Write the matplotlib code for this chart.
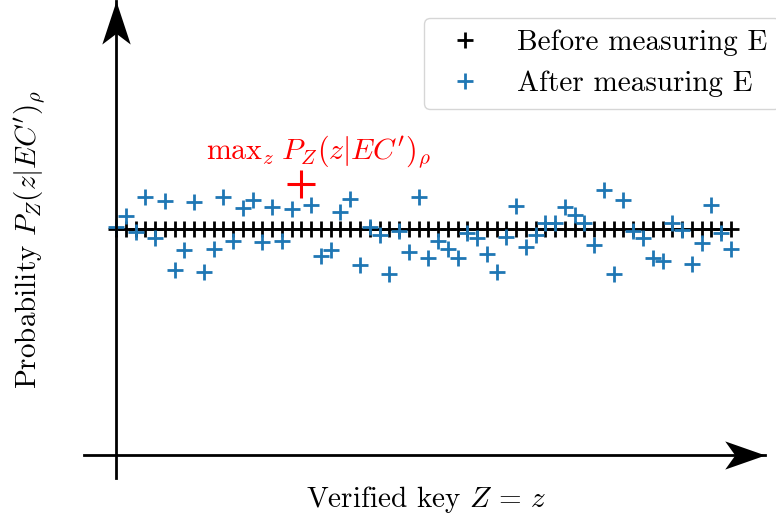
import numpy as np
import matplotlib.pyplot as plt
from matplotlib.path import Path

plt.rcParams["font.family"] = "serif"
plt.rcParams["font.serif"] = ["cmr10"]
plt.rcParams["mathtext.fontset"] = "cm"
plt.rcParams["axes.formatter.use_mathtext"] = True

# 6-bit key -> 64 possible values z
keys = np.arange(64)
p_before = np.full(64, 1 / 64)
p_after = np.array([
    0.015743, 0.016544, 0.015438, 0.017817, 0.014982, 0.017582, 0.012790, 0.014173,
    0.017512, 0.012673, 0.014242, 0.017817, 0.014816, 0.017098, 0.017630, 0.014747,
    0.017167, 0.014816, 0.017008, 0.018716, 0.017305, 0.013758, 0.014173, 0.016821,
    0.017678, 0.013136, 0.015784, 0.015210, 0.012514, 0.015487, 0.014056, 0.017858,
    0.013599, 0.014795, 0.014222, 0.013599, 0.015328, 0.015024, 0.013876, 0.012673,
    0.015093, 0.017215, 0.014401, 0.015210, 0.016019, 0.016061, 0.017167, 0.016593,
    0.016019, 0.014519, 0.018321, 0.012514, 0.017630, 0.015487, 0.014982, 0.013641,
    0.013433, 0.016019, 0.015556, 0.013184, 0.014678, 0.017284, 0.015369, 0.014242,
])
z_max = int(np.argmax(p_after))

fig = plt.figure(figsize=(7.76, 5.17), dpi=100)
ax = fig.add_axes([84 / 776, 39 / 517, (765 - 84) / 776, 477 / 517])

ax.plot(keys, p_before, "+", color="black", ms=11, mew=2, ls="none",
        label="Before measuring E")
ax.plot(keys, p_after, "+", color="#1f77b4", ms=11, mew=2, ls="none",
        label="After measuring E")
ax.plot(z_max, p_after[z_max], "+", color="red", ms=20, mew=2.2, zorder=5)
ax.annotate(r"$\mathrm{max}_z\; P_Z(z|EC')_\rho$", (z_max, p_after[z_max]),
            xytext=(12, 10), textcoords="offset points", ha="center", va="bottom",
            color="red", fontsize=21.5)

ax.set_xlim(-3.28, 66.5)
ax.set_ylim(-0.00159, 0.03139)

# spines through the origin, with arrow heads
for s in ["top", "right"]:
    ax.spines[s].set_visible(False)
ax.spines["left"].set_position(("data", 0))
ax.spines["bottom"].set_position(("data", 0))
ax.spines["left"].set_linewidth(2)
ax.spines["bottom"].set_linewidth(2)
ax.set_xticks([])
ax.set_yticks([])

right_head = Path([(0, 0), (-1, 0.35), (-0.75, 0), (-1, -0.35), (0, 0)],
                  [Path.MOVETO, Path.LINETO, Path.LINETO, Path.LINETO, Path.CLOSEPOLY])
up_head = Path([(0, 0), (0.33, -1), (0, -0.75), (-0.33, -1), (0, 0)],
               [Path.MOVETO, Path.LINETO, Path.LINETO, Path.LINETO, Path.CLOSEPOLY])
ax.plot(1, 0, marker=right_head, ms=58, color="black", mew=0,
        transform=ax.get_yaxis_transform(), clip_on=False)
ax.plot(0, 1, marker=up_head, ms=62, color="black", mew=0,
        transform=ax.get_xaxis_transform(), clip_on=False)

ax.set_xlabel(r"Verified key $Z\,=\,z$", fontsize=21)
ax.set_ylabel(r"Probability $P_Z(z|EC')_\rho$", fontsize=21)
ax.xaxis.set_label_coords(0.502, -0.012)
ax.yaxis.set_label_coords(-0.053, 0.5)

fig.legend(loc="upper left", bbox_to_anchor=(424 / 776, 1 - 18 / 517),
           fontsize=21, frameon=True, borderaxespad=0)

fig.savefig("out.png", dpi=100)
